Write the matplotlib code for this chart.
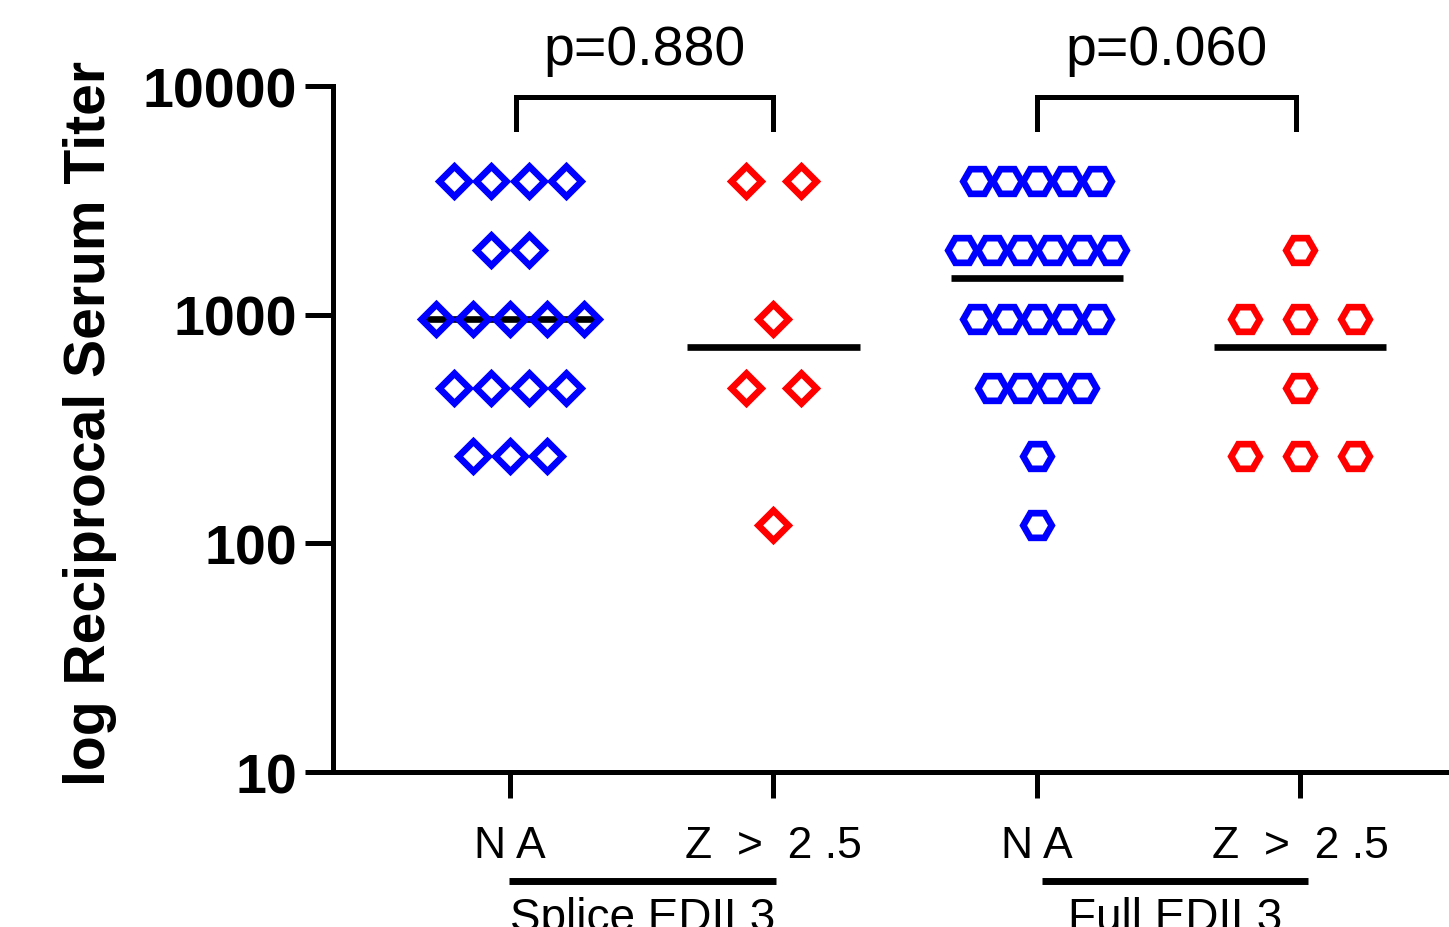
import numpy as np
import matplotlib.pyplot as plt
from matplotlib.ticker import NullLocator, FixedLocator, FixedFormatter

plt.rcParams['font.family'] = ['Liberation Sans', 'DejaVu Sans']

# titer values per group (reciprocal dilution)
splice_na = [3840] * 4 + [1920] * 2 + [960] * 5 + [480] * 4 + [240] * 3
splice_z = [3840] * 2 + [960] + [480] * 2 + [120]
full_na = [3840] * 5 + [1920] * 6 + [960] * 5 + [480] * 4 + [240] + [120]
full_z = [1920] + [960] * 3 + [480] + [240] * 3
groups = [splice_na, splice_z, full_na, full_z]
tick_labels = ['N A', 'Z  >  2 .5', 'N A', 'Z  >  2 .5']
set_labels = ['Splice EDIL3', 'Full EDIL3']
p_values = ['p=0.880', 'p=0.060']

colors = ['#0000ff', '#ff0000', '#0000ff', '#ff0000']
markers = ['D', 'D', 'H', 'H']
msizes = [15, 15, 20.5, 20.5]
spacing = [0.141, 0.209, 0.114, 0.209]


def row_offsets(vals, step):
    xs = np.zeros(len(vals))
    vals = np.asarray(vals)
    for v in np.unique(vals):
        idx = np.where(vals == v)[0]
        n = len(idx)
        xs[idx] = (np.arange(n) - (n - 1) / 2) * step
    return xs


fig = plt.figure(figsize=(14.49, 9.28), dpi=100)
ax = fig.add_axes([0.2298, 0.167, 0.813, 0.7392])

for i, vals in enumerate(groups):
    xs = i + row_offsets(vals, spacing[i])
    ax.plot(xs, vals, linestyle='none', marker=markers[i], ms=msizes[i],
            mfc='none', mec=colors[i], mew=4.8, zorder=3, clip_on=False)
    med = np.median(vals)
    ax.plot([i - 0.327, i + 0.327], [med, med], color='black', lw=4.8,
            solid_capstyle='butt', zorder=2)

ax.set_yscale('log')
ax.set_ylim(10, 10000)
ax.set_xlim(-0.672, 3.8)
ax.yaxis.set_major_locator(FixedLocator([10, 100, 1000, 10000]))
ax.yaxis.set_major_formatter(FixedFormatter(['10', '100', '1000', '10000']))
ax.yaxis.set_minor_locator(NullLocator())
ax.set_xticks(range(4))
ax.set_xticklabels(tick_labels, fontsize=32)

for s in ['top', 'right']:
    ax.spines[s].set_visible(False)
for s in ['left', 'bottom']:
    ax.spines[s].set_linewidth(3.6)

ax.tick_params(axis='y', length=20, width=3.6, pad=6, labelsize=40)
ax.tick_params(axis='x', length=19, width=3.6, pad=19)
for lab in ax.get_yticklabels():
    lab.set_fontweight('bold')

ax.set_ylabel('log Reciprocal Serum Titer', fontsize=41, fontweight='bold',
              va='center')
ax.yaxis.set_label_coords(-0.206, 0.51)

# significance brackets
brackets = [(0.023, 1.0), (2.0, 2.985)]
trans = ax.get_xaxis_transform()
for (x0, x1), p in zip(brackets, p_values):
    ax.plot([x0, x0, x1, x1], [0.937, 0.984, 0.984, 0.937], color='black',
            lw=3.6, transform=trans, clip_on=False,
            solid_joinstyle='miter')
    ax.text((x0 + x1) / 2, 1.032, p, transform=trans, ha='center',
            va='baseline', fontsize=40)

# grouping lines under tick labels
group_spans = [(-0.005, 1.01), (2.02, 3.03)]
for (x0, x1), name in zip(group_spans, set_labels):
    ax.plot([x0, x1], [-0.159, -0.159], color='black', lw=5,
            transform=trans, clip_on=False, solid_capstyle='butt')
    ax.text((x0 + x1) / 2, -0.231, name, transform=trans, ha='center',
            va='baseline', fontsize=33)

fig.savefig('out.png', dpi=100)
